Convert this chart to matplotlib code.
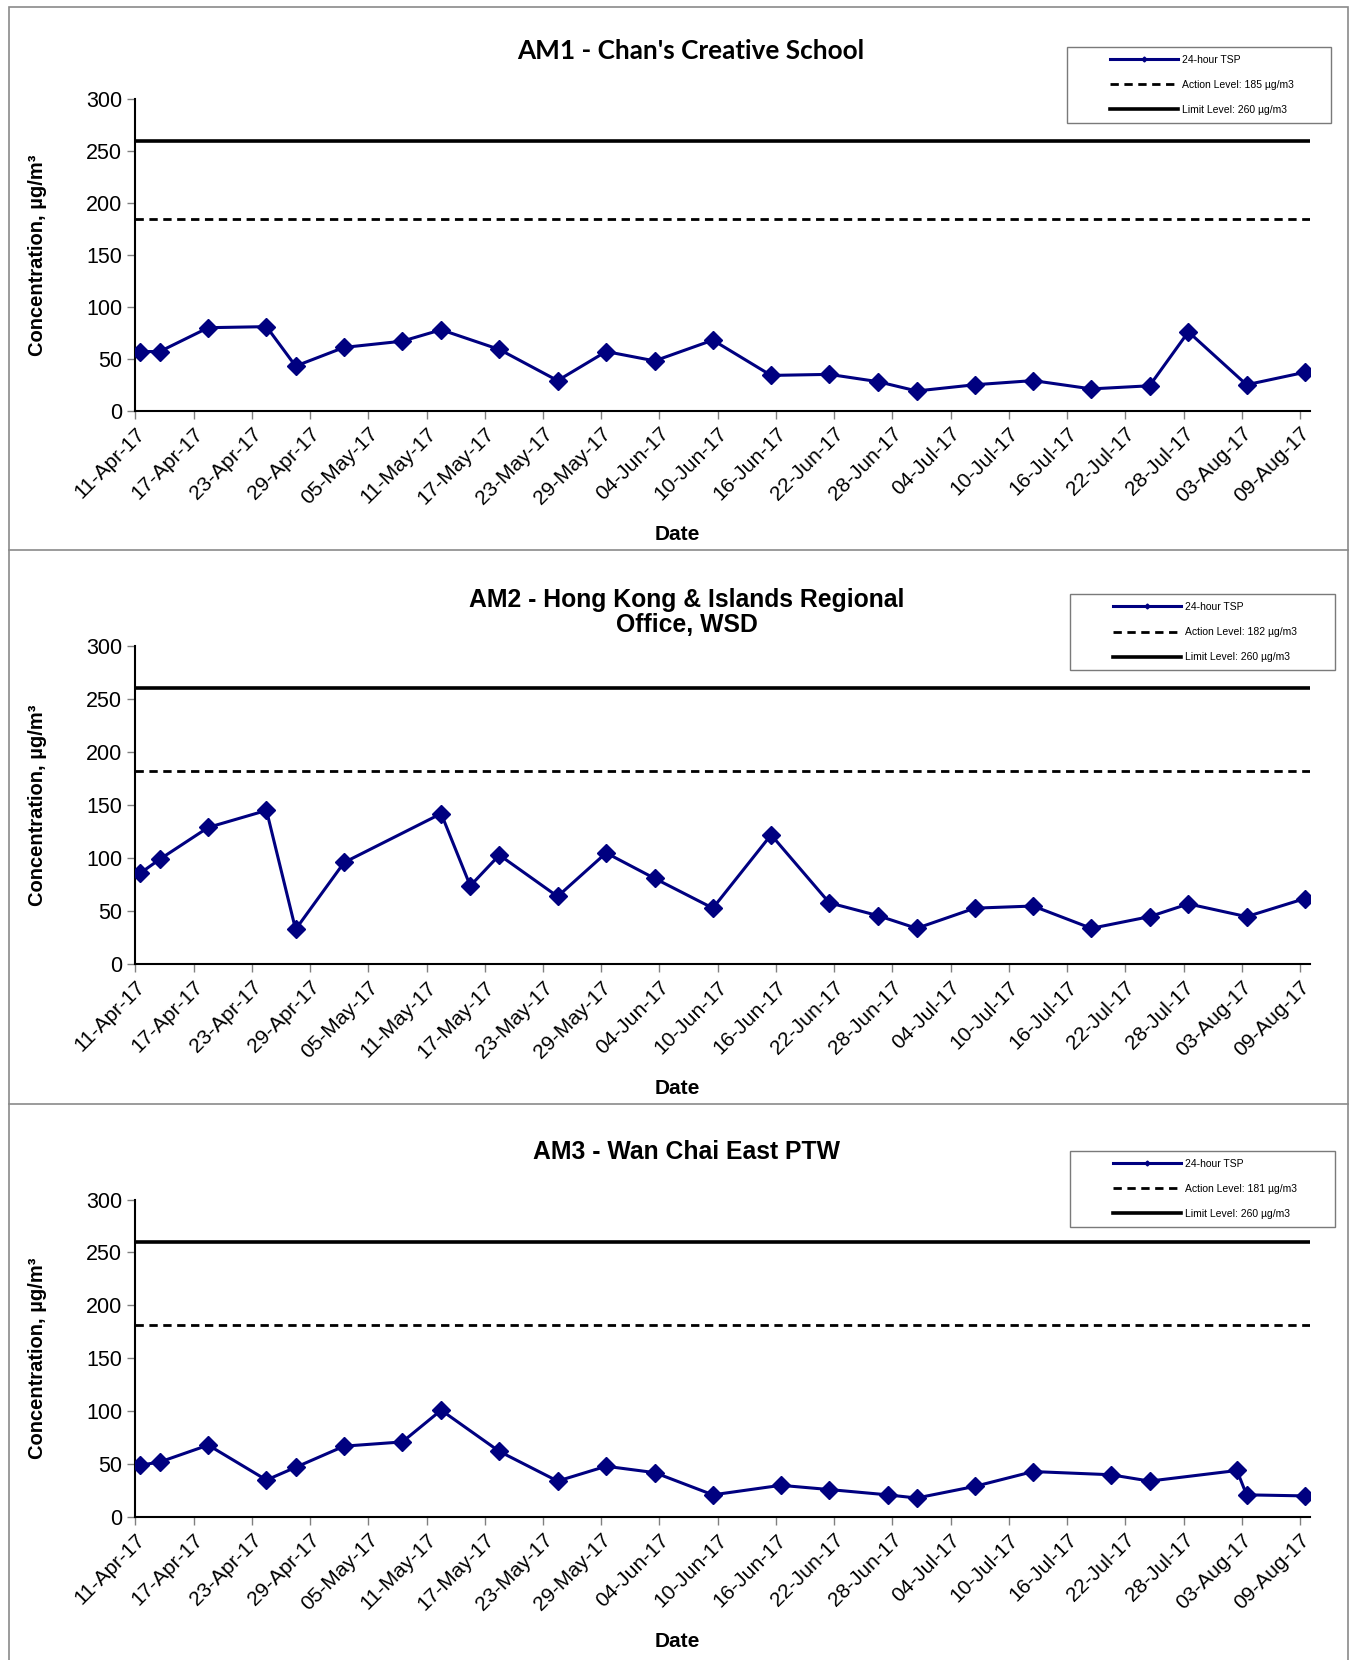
import matplotlib
matplotlib.use("Agg")
import matplotlib.pyplot as plt
import matplotlib.dates as mdates
from matplotlib.lines import Line2D
from matplotlib.patches import Rectangle
import pandas as pd

# AM1 - Chan's Creative School
am1_dates = ["2017-04-11", "2017-04-13", "2017-04-18", "2017-04-24", "2017-04-27", "2017-05-02",
             "2017-05-08", "2017-05-12", "2017-05-18", "2017-05-24", "2017-05-29", "2017-06-03",
             "2017-06-09", "2017-06-15", "2017-06-21", "2017-06-26", "2017-06-30", "2017-07-06",
             "2017-07-12", "2017-07-18", "2017-07-24", "2017-07-28", "2017-08-03", "2017-08-09"]
am1_tsp = [57, 57, 80, 81, 43, 61, 67, 78, 59, 29, 57, 48,
           68, 34, 35, 28, 19, 25, 29, 21, 24, 76, 25, 37]

# AM2 - Hong Kong & Islands Regional Office, WSD
am2_dates = ["2017-04-11", "2017-04-13", "2017-04-18", "2017-04-24", "2017-04-27", "2017-05-02",
             "2017-05-12", "2017-05-15", "2017-05-18", "2017-05-24", "2017-05-29", "2017-06-03",
             "2017-06-09", "2017-06-15", "2017-06-21", "2017-06-26", "2017-06-30", "2017-07-06",
             "2017-07-12", "2017-07-18", "2017-07-24", "2017-07-28", "2017-08-03", "2017-08-09"]
am2_tsp = [86, 99, 129, 145, 33, 96, 142, 74, 103, 64, 105, 81,
           53, 122, 58, 46, 34, 53, 55, 34, 45, 57, 45, 62]

# AM3 - Wan Chai East PTW
am3_dates = ["2017-04-11", "2017-04-13", "2017-04-18", "2017-04-24", "2017-04-27", "2017-05-02",
             "2017-05-08", "2017-05-12", "2017-05-18", "2017-05-24", "2017-05-29", "2017-06-03",
             "2017-06-09", "2017-06-16", "2017-06-21", "2017-06-27", "2017-06-30", "2017-07-06",
             "2017-07-12", "2017-07-20", "2017-07-24", "2017-08-02", "2017-08-03", "2017-08-09"]
am3_tsp = [49, 52, 68, 35, 47, 67, 71, 101, 62, 34, 48, 42,
           21, 30, 26, 21, 18, 29, 43, 40, 34, 44, 21, 20]

titles = ["AM1 - Chan's Creative School",
          "AM2 - Hong Kong & Islands Regional\nOffice, WSD",
          "AM3 - Wan Chai East PTW"]
action_levels = [185, 182, 181]
limit_level = 260

navy = "#000080"
arial = ["Liberation Sans", "DejaVu Sans"]

fig = plt.figure(figsize=(13.52, 16.60), dpi=100)

# panel frames
fig.add_artist(Rectangle((0.0063, -0.01), 0.9906, 1.006, transform=fig.transFigure,
                         fill=False, edgecolor="#8a8a8a", lw=1.2))
for yy in [0.6684, 0.3348]:
    fig.add_artist(Line2D([0.0063, 0.9969], [yy, yy], transform=fig.transFigure,
                          color="#8a8a8a", lw=1.2))

# bottom, height of plot area, title y, Date label y, legend box top, legend box left
panels = [
    (0.7526, 0.1875, 0.969, 0.678, 0.9719, 0.7893),
    (0.4190, 0.1920, 0.631, 0.344, 0.6422, 0.7917),
    (0.0861, 0.1913, 0.306, 0.011, 0.3068, 0.7917),
]
series = [(am1_dates, am1_tsp), (am2_dates, am2_tsp), (am3_dates, am3_tsp)]

x0 = pd.Timestamp("2017-04-11")
x1 = pd.Timestamp("2017-08-10")
ticks = pd.date_range("2017-04-11", "2017-08-09", freq="6D")

for i, (bottom, height, ty, dy, ly, lx) in enumerate(panels):
    ax = fig.add_axes([0.1002, bottom, 0.8685, height])
    dates, vals = series[i]
    # points sit in the middle of each day slot
    xs = pd.to_datetime(dates) + pd.Timedelta(hours=12)

    ax.plot(xs, vals, color=navy, lw=2.2, marker="D", markersize=9,
            label="24-hour TSP", zorder=3)
    ax.plot([x0, x1], [action_levels[i]] * 2, color="black", lw=2, ls=(0, (3, 2)),
            label="Action Level: %d µg/m3" % action_levels[i])
    ax.plot([x0, x1], [limit_level] * 2, color="black", lw=2.6,
            label="Limit Level: %d µg/m3" % limit_level)

    ax.set_xlim(x0, x1)
    ax.set_ylim(0, 300)
    ax.set_yticks(range(0, 301, 50))
    ax.set_xticks(ticks)
    ax.xaxis.set_major_formatter(mdates.DateFormatter("%d-%b-%y"))
    for s in ["top", "right"]:
        ax.spines[s].set_visible(False)
    for s in ["left", "bottom"]:
        ax.spines[s].set_linewidth(1.5)
    ax.tick_params(axis="both", direction="out", length=6, width=1, color="#808080")
    for lab in ax.get_yticklabels():
        lab.set_family(arial)
        lab.set_fontsize(15.5)
    for lab in ax.get_xticklabels():
        lab.set_family(arial)
        lab.set_fontsize(15)
        lab.set_rotation(45)
        lab.set_ha("right")
        lab.set_rotation_mode("anchor")

    ax.set_ylabel("Concentration, µg/m³", family=arial, fontweight="bold",
                  fontsize=14.5)
    ax.yaxis.set_label_coords(-0.075, 0.5)

    if i == 0:
        fig.text(0.511, ty, titles[i], ha="center", va="center",
                 family=["Lato", "DejaVu Sans"], fontweight="bold", fontsize=18.8)
    else:
        fig.text(0.508, ty, titles[i], ha="center", va="center",
                 family=arial, fontweight="bold", fontsize=17.8, linespacing=1.05)
    fig.text(0.501, dy, "Date", ha="center", va="center", family=arial,
             fontweight="bold", fontsize=15)

    # legend box
    fig.add_artist(Rectangle((lx, ly - 0.0459), 0.1955, 0.0459,
                             transform=fig.transFigure, fill=False,
                             edgecolor="#7a7a7a", lw=1))
    handles, labels = ax.get_legend_handles_labels()
    handles[0] = Line2D([], [], color=navy, lw=2.2, marker="D", markersize=2.5)
    ax.legend(handles, labels, loc="upper left", frameon=False,
              bbox_to_anchor=(lx + 0.0265, ly - 0.0005), bbox_transform=fig.transFigure,
              prop={"family": arial, "size": 7.5}, handlelength=6.5,
              handletextpad=0.4, labelspacing=1.45, borderpad=0.2)

fig.savefig("out.png", dpi=100)
